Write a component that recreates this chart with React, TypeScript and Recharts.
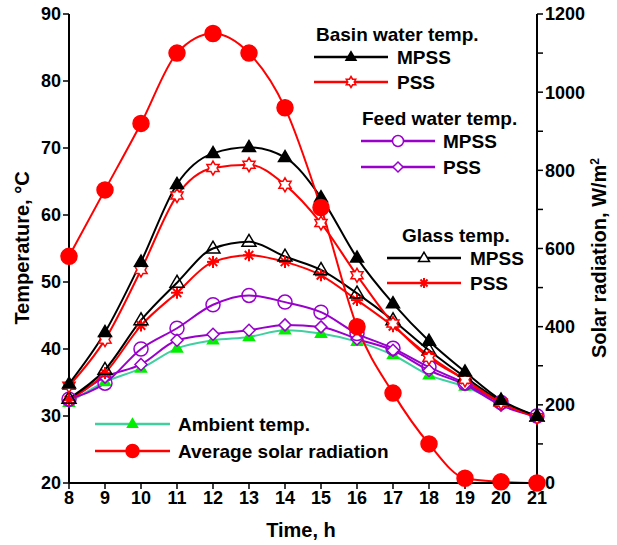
import React from 'react'
import { LineChart, Line, XAxis, YAxis } from 'recharts'

const hours = [8, 9, 10, 11, 12, 13, 14, 15, 16, 17, 18, 19, 20, 21]
const basinMPSS = [34.8, 42.5, 53, 64.6, 69.2, 70.1, 68.6, 62.6, 53.6, 46.8, 41.2, 36.6, 32.4, 30]
const basinPSS = [34.5, 41.4, 51.8, 62.9, 67, 67.5, 64.5, 58.8, 51, 43.8, 38.7, 35.4, 32, 29.8]
const feedMPSS = [32.5, 34.9, 40, 43.1, 46.6, 48, 47, 45.5, 42.3, 40.1, 37.3, 34.9, 32, 30]
const feedPSS = [32.2, 35.8, 37.7, 41.3, 42.2, 42.8, 43.6, 43.3, 41.5, 39.8, 36.8, 34.7, 31.6, 29.9]
const glassMPSS = [32.6, 36.9, 44.3, 49.9, 55, 56, 53.8, 51.8, 48.3, 44.3, 39.8, 35.8, 32.2, 29.9]
const glassPSS = [32.4, 36.4, 43.5, 48.4, 53, 54, 53, 51, 47.3, 43.4, 39, 35.4, 32, 29.8]
const ambient = [32, 35.1, 37.1, 40.1, 41.3, 41.8, 42.8, 42.3, 41.1, 39.1, 36.1, 34.4, 31.9, 29.8]
const solar = [580, 750, 920, 1100, 1150, 1100, 960, 705, 400, 230, 100, 12, 3, 0]

const tempTicks = [20, 30, 40, 50, 60, 70, 80, 90]
const solarTicks = [0, 100, 200, 300, 400, 500, 600, 700, 800, 900, 1000, 1100, 1200]

const rows = hours.map((h, i) => ({
  hour: h,
  basinMPSS: basinMPSS[i],
  basinPSS: basinPSS[i],
  feedMPSS: feedMPSS[i],
  feedPSS: feedPSS[i],
  glassMPSS: glassMPSS[i],
  glassPSS: glassPSS[i],
  ambient: ambient[i],
  solar: solar[i],
}))

const FONT = '"Liberation Sans", Arial, sans-serif'
const RED = '#ff0000'
const PURPLE = '#9900cc'
const TEAL = '#40d0a0'
const GREEN = '#00ee00'

// marker shapes, shared by the chart and the legend
const Tri = ({ cx, cy, h, fill, stroke }: any) => (
  <polygon
    points={`${cx},${cy - h * 1.05} ${cx - h},${cy + h * 0.65} ${cx + h},${cy + h * 0.65}`}
    fill={fill} stroke={stroke} strokeWidth={1.5}
  />
)
const Star = ({ cx, cy, r, stroke }: any) => {
  const pts: string[] = []
  for (let k = 0; k < 12; k++) {
    const a = (Math.PI / 6) * k - Math.PI / 2
    const rr = k % 2 === 0 ? r : r * 0.58
    pts.push(`${cx + rr * Math.cos(a)},${cy + rr * Math.sin(a)}`)
  }
  return <polygon points={pts.join(' ')} fill="#fff" stroke={stroke} strokeWidth={1.5} />
}
const Aster = ({ cx, cy, r, stroke }: any) => (
  <g stroke={stroke} strokeWidth={2}>
    {[0, 1, 2, 3].map((k) => {
      const a = (Math.PI / 4) * k
      return (
        <line key={k} x1={cx - r * Math.cos(a)} y1={cy - r * Math.sin(a)}
          x2={cx + r * Math.cos(a)} y2={cy + r * Math.sin(a)} />
      )
    })}
  </g>
)
const Diamond = ({ cx, cy, r, stroke }: any) => (
  <polygon points={`${cx},${cy - r} ${cx + r},${cy} ${cx},${cy + r} ${cx - r},${cy}`}
    fill="#fff" stroke={stroke} strokeWidth={1.5} />
)
const Circ = ({ cx, cy, r, fill, stroke }: any) => (
  <circle cx={cx} cy={cy} r={r} fill={fill} stroke={stroke} strokeWidth={1.5} />
)

const dotOf = (render: (cx: number, cy: number) => React.ReactElement) => (p: any) =>
  <g key={`d-${p.index}`}>{render(p.cx, p.cy)}</g>

const tickStyle = { fill: '#000', fontSize: 18, fontWeight: 'bold', fontFamily: FONT }
const axisLine = { stroke: '#000', strokeWidth: 2 }
const tickLine = { stroke: '#000', strokeWidth: 1.5 }

const LegendRow = ({ x1, x2, y, color, marker, label, tx }: any) => (
  <g>
    <line x1={x1} x2={x2} y1={y} y2={y} stroke={color} strokeWidth={2.5} />
    {marker((x1 + x2) / 2, y)}
    <text x={tx} y={y + 7} fontSize={19} fontWeight="bold" fontFamily={FONT}>{label}</text>
  </g>
)

export default function App() {
  return (
    <div style={{ position: 'absolute', left: 0, top: 0, width: 617, height: 545, background: '#fff' }}>
      <LineChart width={617} height={545} data={rows} margin={{ top: 14, right: 0, left: 0, bottom: 0 }}>
        <XAxis dataKey="hour" type="number" domain={[8, 21]} ticks={hours} height={62}
          tick={tickStyle} axisLine={axisLine} tickLine={tickLine} tickSize={6} />
        <XAxis xAxisId="top" orientation="top" dataKey="hour" type="number" domain={[8, 21]}
          height={0} tick={false} tickLine={false} axisLine={axisLine} />
        <YAxis yAxisId="t" domain={[20, 90]} ticks={tempTicks} width={69}
          tick={tickStyle} axisLine={axisLine} tickLine={tickLine} tickSize={6} />
        <YAxis yAxisId="s" orientation="right" domain={[0, 1200]} ticks={solarTicks} width={80}
          tick={tickStyle} axisLine={axisLine} tickLine={tickLine} tickSize={6}
          tickFormatter={(v: number) => (v % 200 === 0 ? String(v) : '')} />

        <Line yAxisId="t" type="monotone" dataKey="ambient" stroke={TEAL} strokeWidth={2}
          isAnimationActive={false}
          dot={dotOf((cx, cy) => <Tri cx={cx} cy={cy} h={5.5} fill={GREEN} stroke={GREEN} />)} />
        <Line yAxisId="t" type="monotone" dataKey="feedPSS" stroke={PURPLE} strokeWidth={2}
          isAnimationActive={false}
          dot={dotOf((cx, cy) => <Diamond cx={cx} cy={cy} r={6} stroke={PURPLE} />)} />
        <Line yAxisId="t" type="monotone" dataKey="feedMPSS" stroke={PURPLE} strokeWidth={2}
          isAnimationActive={false}
          dot={dotOf((cx, cy) => <Circ cx={cx} cy={cy} r={7} fill="none" stroke={PURPLE} />)} />
        <Line yAxisId="t" type="monotone" dataKey="glassPSS" stroke={RED} strokeWidth={2}
          isAnimationActive={false}
          dot={dotOf((cx, cy) => <Aster cx={cx} cy={cy} r={6} stroke={RED} />)} />
        <Line yAxisId="t" type="monotone" dataKey="glassMPSS" stroke="#000" strokeWidth={2}
          isAnimationActive={false}
          dot={dotOf((cx, cy) => <Tri cx={cx} cy={cy} h={7} fill="none" stroke="#000" />)} />
        <Line yAxisId="t" type="monotone" dataKey="basinPSS" stroke={RED} strokeWidth={2}
          isAnimationActive={false}
          dot={dotOf((cx, cy) => <Star cx={cx} cy={cy} r={7} stroke={RED} />)} />
        <Line yAxisId="t" type="monotone" dataKey="basinMPSS" stroke="#000" strokeWidth={2}
          isAnimationActive={false}
          dot={dotOf((cx, cy) => <Tri cx={cx} cy={cy} h={6.5} fill="#000" stroke="#000" />)} />
        <Line yAxisId="s" type="monotone" dataKey="solar" stroke={RED} strokeWidth={2}
          isAnimationActive={false}
          dot={dotOf((cx, cy) => <Circ cx={cx} cy={cy} r={8} fill={RED} stroke={RED} />)} />
      </LineChart>

      <svg width={617} height={545} style={{ position: 'absolute', left: 0, top: 0, pointerEvents: 'none' }}>
        <text x={301} y={537} textAnchor="middle" fontSize={20} fontWeight="bold" fontFamily={FONT}>Time, h</text>
        <text transform="translate(29,248) rotate(-90)" textAnchor="middle" fontSize={20}
          fontWeight="bold" fontFamily={FONT}>Temperature, °C</text>
        <text transform="translate(606,258) rotate(-90)" textAnchor="middle" fontSize={20}
          fontWeight="bold" fontFamily={FONT}>Solar radiation, W/m<tspan dy={-7} fontSize={12}>2</tspan></text>

        <text x={316} y={41} fontSize={19} fontWeight="bold" fontFamily={FONT}>Basin water temp.</text>
        <LegendRow x1={314} x2={388} y={57} tx={397} color="#000" label="MPSS"
          marker={(cx: number, cy: number) => <Tri cx={cx} cy={cy} h={5} fill="#000" stroke="#000" />} />
        <LegendRow x1={314} x2={388} y={82} tx={397} color={RED} label="PSS"
          marker={(cx: number, cy: number) => <Star cx={cx} cy={cy} r={5.5} stroke={RED} />} />

        <text x={362} y={125} fontSize={19} fontWeight="bold" fontFamily={FONT}>Feed water temp.</text>
        <LegendRow x1={361} x2={435} y={141} tx={443} color={PURPLE} label="MPSS"
          marker={(cx: number, cy: number) => <Circ cx={cx} cy={cy} r={5.5} fill="#fff" stroke={PURPLE} />} />
        <LegendRow x1={361} x2={435} y={167} tx={443} color={PURPLE} label="PSS"
          marker={(cx: number, cy: number) => <Diamond cx={cx} cy={cy} r={5} stroke={PURPLE} />} />

        <text x={402} y={242} fontSize={19} fontWeight="bold" fontFamily={FONT}>Glass temp.</text>
        <LegendRow x1={387} x2={461} y={258} tx={470} color="#000" label="MPSS"
          marker={(cx: number, cy: number) => <Tri cx={cx} cy={cy} h={5.5} fill="#fff" stroke="#000" />} />
        <LegendRow x1={387} x2={461} y={283} tx={470} color={RED} label="PSS"
          marker={(cx: number, cy: number) => <Aster cx={cx} cy={cy} r={5} stroke={RED} />} />

        <LegendRow x1={95} x2={170} y={424} tx={178} color={TEAL} label="Ambient temp."
          marker={(cx: number, cy: number) => <Tri cx={cx} cy={cy} h={5} fill={GREEN} stroke={GREEN} />} />
        <LegendRow x1={95} x2={170} y={451} tx={178} color={RED} label="Average solar radiation"
          marker={(cx: number, cy: number) => <Circ cx={cx} cy={cy} r={6.5} fill={RED} stroke={RED} />} />
      </svg>
    </div>
  )
}
